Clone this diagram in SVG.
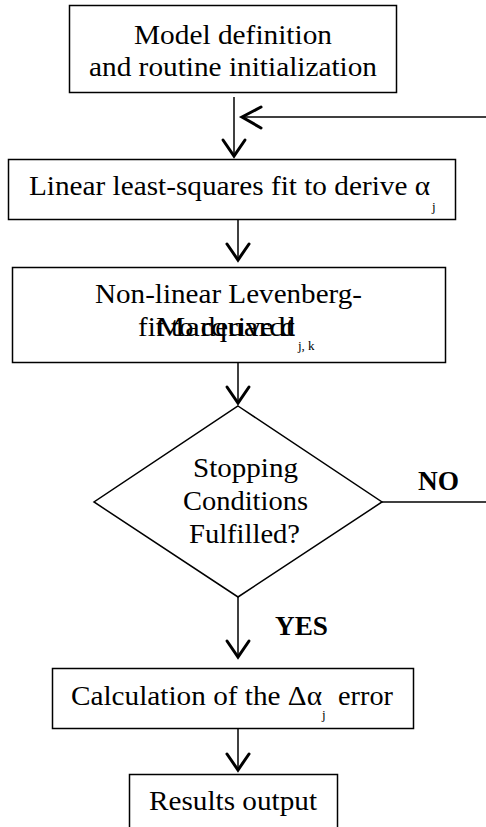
<svg xmlns="http://www.w3.org/2000/svg" width="486" height="827" viewBox="0 0 486 827">
<style>
.box{fill:#fff;stroke:#000;stroke-width:1.5}
.t{font-family:"Liberation Serif","Times New Roman",serif;font-size:27px;fill:#000}
.b{font-weight:bold}
.s{font-size:13px}
.ln{stroke:#000;stroke-width:1.5;fill:none}
.ah{stroke:#000;stroke-width:3;fill:none;stroke-linecap:round;stroke-linejoin:miter}
</style>
<g id="connectors">
<line class="ln" x1="234" y1="97" x2="234" y2="157"/>
<polyline class="ah" points="223,140 234,156 245,140"/>
<line class="ln" x1="486" y1="117" x2="242" y2="117"/>
<polyline class="ah" points="261,107 242,117 261,128"/>
<line class="ln" x1="238" y1="216" x2="238" y2="260"/>
<polyline class="ah" points="227,244 238,260 249,244"/>
<line class="ln" x1="238" y1="362" x2="238" y2="404"/>
<polyline class="ah" points="227,387 238,403 249,387"/>
<line class="ln" x1="382" y1="502" x2="486" y2="502"/>
<line class="ln" x1="238" y1="597" x2="238" y2="657"/>
<polyline class="ah" points="227,641 238,657 249,641"/>
<line class="ln" x1="238" y1="729" x2="238" y2="771"/>
<polyline class="ah" points="227,754 238,770 249,754"/>
<text class="t b" x="418" y="490" textLength="41" lengthAdjust="spacingAndGlyphs">NO</text>
<text class="t b" x="275" y="635" textLength="53" lengthAdjust="spacingAndGlyphs">YES</text>
</g>
<g id="n1">
<rect class="box" x="69.5" y="5.5" width="327" height="87"/>
<text class="t" x="134" y="44" textLength="198" lengthAdjust="spacingAndGlyphs">Model definition</text>
<text class="t" x="89" y="76" textLength="288" lengthAdjust="spacingAndGlyphs">and routine initialization</text>
</g>
<g id="n2">
<rect class="box" x="8.5" y="159.5" width="447" height="60"/>
<text class="t" x="29" y="195" textLength="401" lengthAdjust="spacingAndGlyphs">Linear least-squares fit to derive α</text>
<text class="t s" x="432" y="211">j</text>
</g>
<g id="n3">
<rect class="box" x="12.5" y="267.5" width="433" height="95"/>
<text class="t" x="95" y="303" textLength="267" lengthAdjust="spacingAndGlyphs">Non-linear Levenberg-</text>
<text class="t" x="138" y="336" textLength="157" lengthAdjust="spacingAndGlyphs">fit to derive d</text>
<text class="t" x="156" y="336" textLength="139" lengthAdjust="spacingAndGlyphs">Marquardt</text>
<text class="t s" x="298" y="350">j, k</text>
</g>
<g id="n4">
<polygon class="box" points="238,406 382,502 238,597 94,502"/>
<text class="t" x="193" y="477" textLength="105" lengthAdjust="spacingAndGlyphs">Stopping</text>
<text class="t" x="183" y="510" textLength="125" lengthAdjust="spacingAndGlyphs">Conditions</text>
<text class="t" x="189" y="543" textLength="111" lengthAdjust="spacingAndGlyphs">Fulfilled?</text>
</g>
<g id="n5">
<rect class="box" x="52.5" y="668.5" width="361" height="60"/>
<text class="t" x="71" y="705" textLength="251" lengthAdjust="spacingAndGlyphs">Calculation of the Δα</text>
<text class="t s" x="322" y="719">j</text>
<text class="t" x="338" y="705" textLength="55" lengthAdjust="spacingAndGlyphs">error</text>
</g>
<g id="n6">
<rect class="box" x="129.5" y="774.5" width="208" height="60"/>
<text class="t" x="149" y="810" textLength="168" lengthAdjust="spacingAndGlyphs">Results output</text>
</g>
</svg>
